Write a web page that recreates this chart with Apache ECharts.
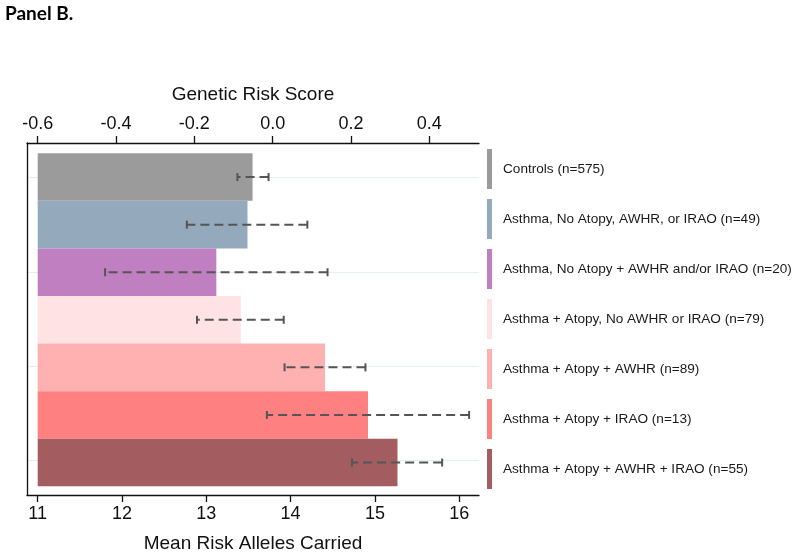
<!DOCTYPE html>
<html>
<head>
<meta charset="utf-8">
<script src="https://cdn.jsdelivr.net/npm/echarts@6/dist/echarts.min.js"></script>
<style>
html,body{margin:0;padding:0;background:#fff;}
#chart{width:799px;height:558px;}
</style>
</head>
<body>
<div id="chart"></div>
<script>
'use strict';
// groups, top to bottom
var groups = [
	'Controls (n=575)',
	'Asthma, No Atopy, AWHR, or IRAO (n=49)',
	'Asthma, No Atopy + AWHR and/or IRAO (n=20)',
	'Asthma + Atopy, No AWHR or IRAO (n=79)',
	'Asthma + Atopy + AWHR (n=89)',
	'Asthma + Atopy + IRAO (n=13)',
	'Asthma + Atopy + AWHR + IRAO (n=55)'
];
// mean risk alleles carried
var meanAlleles = [13.55, 13.49, 13.12, 13.41, 14.41, 14.92, 15.27];
// error bar ends
var ciLow  = [13.37, 12.77, 11.80, 12.89, 13.93, 13.72, 14.73];
var ciHigh = [13.74, 14.20, 14.44, 13.92, 14.89, 16.12, 15.80];
// axis ticks
var alleleTicks = [11, 12, 13, 14, 15, 16];
var scoreTicks = [-0.6, -0.4, -0.2, 0.0, 0.2, 0.4];
var gridRows = [1, 3, 5, 7];

var groupColors = ['#9b9b9b', '#94a9bc', '#c07fc0', '#ffe3e4', '#ffb1b1', '#ff8080', '#a35d60'];

var chart = echarts.init(document.getElementById('chart'));

var axisFont = 'Liberation Sans, Arial, sans-serif';

var barSeries = [];
for (var i = 0; i < groups.length; i++) {
	var d = [];
	for (var j = 0; j < groups.length; j++) {
		d.push(j === i ? meanAlleles[i] : '-');
	}
	barSeries.push({
		name: groups[i],
		type: 'bar',
		xAxisIndex: 2,
		yAxisIndex: 1,
		barGap: '-100%',
		barCategoryGap: '0%',
		itemStyle: {color: groupColors[i]},
		data: d,
		z: 2
	});
}

var errData = [];
for (var k = 0; k < groups.length; k++) {
	errData.push([k, ciLow[k], ciHigh[k]]);
}

function renderErr(params, api) {
	var row = api.value(0);
	var p1 = api.coord([api.value(1), row]);
	var p2 = api.coord([api.value(2), row]);
	var cap = 4;
	var st = {stroke: '#555', lineWidth: 2};
	return {
		type: 'group',
		children: [
			// drawn right to left so the dash meets the right cap
			{type: 'line', shape: {x1: p2[0], y1: p2[1], x2: p1[0], y2: p1[1]},
				style: {stroke: '#555', lineWidth: 2, lineDash: [9, 5]}},
			{type: 'line', shape: {x1: p1[0], y1: p1[1] - cap, x2: p1[0], y2: p1[1] + cap}, style: st},
			{type: 'line', shape: {x1: p2[0], y1: p2[1] - cap, x2: p2[0], y2: p2[1] + cap}, style: st}
		]
	};
}

var option = {
	animation: false,
	title: {
		text: 'Panel B.',
		left: 5,
		top: 4,
		padding: 0,
		textStyle: {fontFamily: 'Lato, Open Sans, sans-serif', fontWeight: 'bold', fontSize: 19, color: '#000'}
	},
	legend: {
		orient: 'vertical',
		left: 487,
		top: 149,
		padding: 0,
		itemWidth: 5,
		itemHeight: 40,
		itemGap: 10,
		icon: 'rect',
		selectedMode: false,
		data: groups,
		textStyle: {fontFamily: axisFont, fontSize: 13.6, color: '#1a1a1a', padding: [0, 0, 0, 6]}
	},
	grid: [
		// box with axes
		{left: 27, right: 320, top: 143, bottom: 61},
		// bars
		{left: 37.7, right: 340, top: 153.3, bottom: 71.7}
	],
	xAxis: [
		{
			gridIndex: 0,
			type: 'value',
			position: 'bottom',
			min: 10.873,
			max: 16.235,
			name: 'Mean Risk Alleles Carried',
			nameLocation: 'middle',
			nameGap: 39,
			nameTextStyle: {fontFamily: axisFont, fontSize: 19, color: '#111'},
			axisLine: {show: true, onZero: false, lineStyle: {color: '#111', width: 1.3}},
			axisTick: {show: true, length: 7, customValues: alleleTicks, lineStyle: {color: '#111', width: 1.3}},
			axisLabel: {customValues: alleleTicks, margin: 10, fontFamily: axisFont, fontSize: 18, color: '#111'},
			splitLine: {show: false}
		},
		{
			gridIndex: 0,
			type: 'value',
			position: 'top',
			min: -0.6273,
			max: 0.5267,
			name: 'Genetic Risk Score',
			nameLocation: 'middle',
			nameGap: 39,
			nameTextStyle: {fontFamily: axisFont, fontSize: 19, color: '#111'},
			axisLine: {show: true, onZero: false, lineStyle: {color: '#111', width: 1.3}},
			axisTick: {show: true, length: 7, customValues: scoreTicks, lineStyle: {color: '#111', width: 1.3}},
			axisLabel: {customValues: scoreTicks, margin: 10, fontFamily: axisFont, fontSize: 18, color: '#111',
				formatter: function (v) { return v.toFixed(1); }},
			splitLine: {show: false}
		},
		{
			gridIndex: 1,
			type: 'value',
			min: 11,
			max: 16,
			show: false
		}
	],
	yAxis: [
		{
			gridIndex: 0,
			type: 'value',
			position: 'left',
			inverse: true,
			min: 0.275,
			max: 7.725,
			axisLine: {show: true, onZero: false, lineStyle: {color: '#111', width: 1.3}},
			axisTick: {show: false, customValues: gridRows},
			axisLabel: {show: false},
			splitLine: {show: true, lineStyle: {color: '#e4f1f1', width: 1}}
		},
		{
			gridIndex: 1,
			type: 'category',
			inverse: true,
			data: groups,
			show: false
		}
	],
	series: barSeries.concat([{
		type: 'custom',
		name: 'err',
		xAxisIndex: 2,
		yAxisIndex: 1,
		renderItem: renderErr,
		encode: {x: [1, 2], y: 0},
		data: errData,
		z: 5
	}])
};

chart.setOption(option);
</script>
</body>
</html>
